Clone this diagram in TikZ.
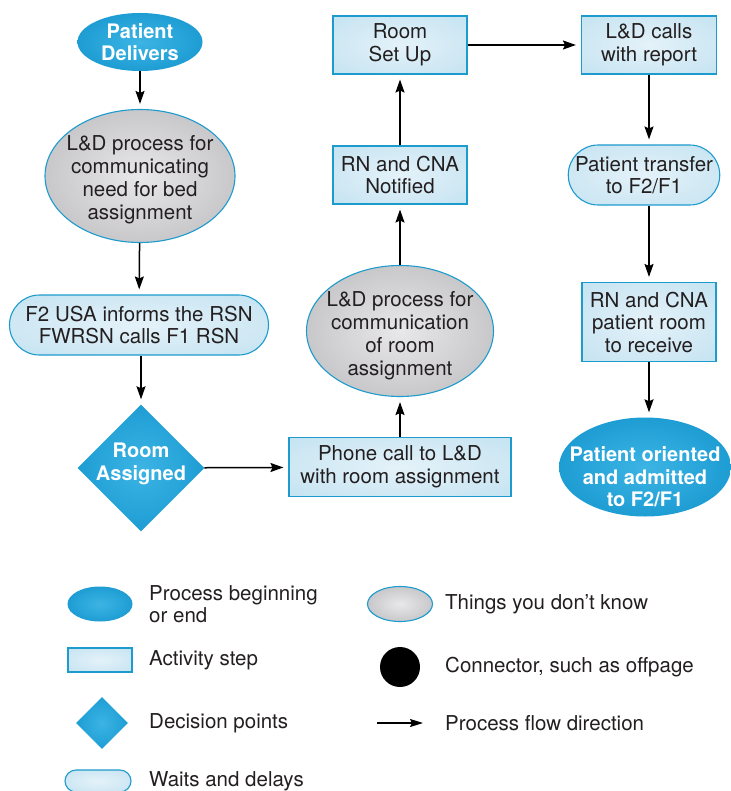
\documentclass[tikz,border=0pt]{standalone}
\usepackage{fontspec}
\setmainfont{TeX Gyre Heros}
\usetikzlibrary{shapes.geometric,shapes.misc,arrows.meta}

\definecolor{textdark}{RGB}{35,31,32}
\definecolor{edgeblue}{RGB}{30,155,205}
\definecolor{blueIn}{RGB}{60,180,228}
\definecolor{blueOut}{RGB}{0,134,195}
\definecolor{paleIn}{RGB}{228,242,249}
\definecolor{paleOut}{RGB}{184,221,238}
\definecolor{greyIn}{RGB}{232,232,234}
\definecolor{greyOut}{RGB}{168,168,171}

% soft radial fills reaching the outer colour at the shape edge
\pgfdeclareradialshading{blueball}{\pgfpoint{0bp}{0bp}}{color(0bp)=(blueIn); color(50bp)=(blueOut); color(75bp)=(blueOut)}
\pgfdeclareradialshading{paleball}{\pgfpoint{0bp}{0bp}}{color(0bp)=(paleIn); color(50bp)=(paleOut); color(75bp)=(paleOut)}
\pgfdeclareradialshading{greyball}{\pgfpoint{0bp}{0bp}}{color(0bp)=(greyIn); color(50bp)=(greyOut); color(75bp)=(greyOut)}

\tikzset{
  x=1pt, y=-1pt,
  base/.style={font=\fontsize{20.5}{22.5}\selectfont, text=textdark, align=center, inner sep=0pt},
  boldwhite/.style={font=\fontsize{20}{22.5}\selectfont\bfseries, text=white, align=center, inner sep=0pt},
  greytext/.style={font=\fontsize{20.5}{23}\selectfont, text=textdark, align=center, inner sep=0pt},
  terminal/.style={base, ellipse, shading=blueball, inner xsep=-30pt, inner ysep=-12pt},
  unknown/.style={base, ellipse, shading=greyball, draw=edgeblue, line width=1.1pt},
  activity/.style={base, rectangle, shading=paleball, draw=edgeblue, line width=1.1pt},
  waiting/.style={base, rounded rectangle, shading=paleball, draw=edgeblue, line width=1.1pt},
  decision/.style={base, diamond, shading=blueball},
  blackdot/.style={circle, fill=black, inner sep=0pt, minimum size=40pt},
  flow/.style={-{Stealth[length=13pt,width=9pt,inset=2pt]}, line width=1.5pt, shorten >=5pt},
  legendtext/.style={font=\fontsize{20.5}{22.5}\selectfont, text=textdark, align=left, inner sep=0pt, anchor=west},
}

\begin{document}
\begin{tikzpicture}
\useasboundingbox (0,0) rectangle (730,791);

% left column
\node[terminal, minimum width=125pt, minimum height=58pt,
      label={[boldwhite, name=deliver-text]center:Patient\\Delivers}] (deliver) at (140,42) {};
\node[unknown, minimum width=190pt, minimum height=133pt,
      label={[greytext, name=bedneed-text, yshift=-4pt]center:L\&D process for\\communicating\\need for bed\\assignment}] (bedneed) at (140,176) {};
\node[waiting, minimum width=259pt, minimum height=60pt] (inform) at (139,325) {F2 USA informs the RSN\\FWRSN calls F1 RSN};
\node[decision, minimum width=127pt, minimum height=127pt,
      label={[boldwhite, name=assigned-text, yshift=4pt]center:Room\\Assigned}] (assigned) at (141,468) {};

% middle column
\node[activity, minimum width=222pt, minimum height=59pt] (phone) at (400,467) {Phone call to L\&D\\with room assignment};
\node[unknown, minimum width=187pt, minimum height=131pt,
      label={[greytext, name=roomcomm-text, yshift=-5pt]center:L\&D process for\\communication\\of room\\assignment}] (roomcomm) at (400,331) {};
\node[activity, minimum width=134pt, minimum height=58pt] (notified) at (400,175) {RN and CNA\\Notified};
\node[activity, minimum width=134pt, minimum height=58pt] (setup) at (400,45) {Room\\Set Up};

% right column
\node[activity, minimum width=135pt, minimum height=58pt] (report) at (649,45) {L\&D calls\\with report};
\node[waiting, minimum width=148pt, minimum height=60pt] (transfer) at (644,175) {Patient transfer\\to F2/F1};
\node[activity, minimum width=134pt, minimum height=79pt] (receive) at (649,322) {RN and CNA\\patient room\\to receive};
\node[terminal, minimum width=172pt, minimum height=99pt,
      label={[boldwhite, name=admitted-text, yshift=-10pt]center:Patient oriented\\and admitted\\to F2/F1}] (admitted) at (645,467) {};

% process flow
\draw[flow] (deliver) -- (bedneed);
\draw[flow] (bedneed) -- (inform);
\draw[flow] (inform.south -| assigned) -- (assigned);
\draw[flow] (assigned) -- (phone);
\draw[flow] (phone) -- (roomcomm);
\draw[flow] (roomcomm) -- (notified);
\draw[flow] (notified) -- (setup);
\draw[flow] (setup) -- (report);
\draw[flow] (report.south) -- (report.south |- transfer.north);
\draw[flow] (transfer.south -| receive) -- (receive);
\draw[flow] (receive) -- (receive |- admitted.north);

% legend
\node[terminal, minimum width=65pt, minimum height=35pt] (keyterm) at (100,604) {};
\node[legendtext] (keytermtxt) at (149,604) {Process beginning\\or end};
\node[activity, minimum width=64pt, minimum height=24pt] (keyact) at (100,660) {};
\node[legendtext] (keyacttxt) at (149,660) {Activity step};
\node[decision, minimum width=52pt, minimum height=52pt] (keydec) at (102,723) {};
\node[legendtext] (keydectxt) at (149,723) {Decision points};
\node[waiting, minimum width=66pt, minimum height=22pt] (keywait) at (98,781) {};
\node[legendtext] (keywaittxt) at (149,781) {Waits and delays};

\node[unknown, minimum width=65pt, minimum height=35pt] (keyunk) at (400,604) {};
\node[legendtext] (keyunktxt) at (445,604) {Things you don’t know};
\node[blackdot] (keydot) at (400,667) {};
\node[legendtext] (keydottxt) at (445,667) {Connector, such as offpage};
\coordinate (keyflowA) at (377,723);
\coordinate (keyflowB) at (423,723);
\draw[-{Stealth[length=13pt,width=8pt,inset=2pt]}, line width=1.2pt] (keyflowA) -- (keyflowB);
\node[legendtext] (keyflowtxt) at (445,723) {Process flow direction};
\end{tikzpicture}
\end{document}
